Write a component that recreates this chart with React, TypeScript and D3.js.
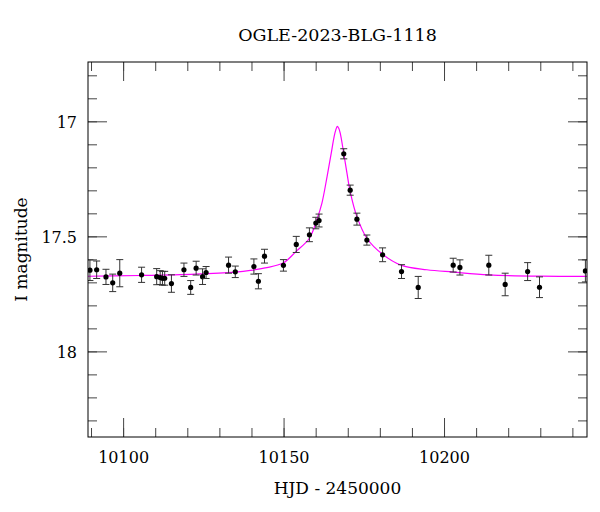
import * as d3 from "d3";

// photometry
const hjd = [
  10089.5, 10091.6, 10094.5, 10096.6, 10098.8, 10105.6, 10110.3, 10111.4, 10112.1, 10112.8,
  10114.9, 10118.8, 10120.9, 10122.6, 10124.6, 10125.7, 10132.7, 10134.8, 10140.6, 10142.0,
  10143.9, 10149.8, 10153.8, 10157.9, 10159.9, 10160.9, 10168.6, 10170.6, 10172.7, 10175.8,
  10180.7, 10186.6, 10191.8, 10202.7, 10204.8, 10213.8, 10218.9, 10225.9, 10229.6, 10243.9,
];
const mag = [
  17.645, 17.643, 17.674, 17.7, 17.658, 17.665, 17.673, 17.677, 17.68, 17.68,
  17.703, 17.643, 17.72, 17.636, 17.673, 17.655, 17.623, 17.652, 17.629, 17.693,
  17.584, 17.624, 17.533, 17.491, 17.44, 17.429, 17.139, 17.297, 17.423, 17.514,
  17.578, 17.651, 17.72, 17.623, 17.633, 17.623, 17.707, 17.651, 17.719, 17.648,
];
const magErr = [
  0.045, 0.038, 0.033, 0.038, 0.059, 0.033, 0.035, 0.03, 0.03, 0.03,
  0.038, 0.029, 0.03, 0.03, 0.034, 0.026, 0.035, 0.025, 0.033, 0.033,
  0.03, 0.025, 0.035, 0.03, 0.025, 0.028, 0.022, 0.022, 0.026, 0.022,
  0.03, 0.03, 0.048, 0.03, 0.033, 0.043, 0.049, 0.039, 0.045, 0.048,
];

// model curve
const modelHjd = [
  10085, 10105.2, 10122.3, 10134.8, 10139.5, 10144.1, 10149.7, 10153.7, 10157.9, 10160.2,
  10161.8, 10163.4, 10164.7, 10165.6, 10166.1, 10166.6, 10167.0, 10167.5, 10168.5, 10169.6,
  10170.6, 10172.7, 10175.8, 10180.7, 10186.6, 10194.5, 10202.7, 10213.8, 10229.8, 10248,
];
const modelMag = [
  17.672, 17.668, 17.662, 17.653, 17.646, 17.635, 17.614, 17.564, 17.506, 17.426,
  17.353, 17.238, 17.136, 17.064, 17.036, 17.02, 17.027, 17.049, 17.129, 17.223,
  17.303, 17.412, 17.506, 17.576, 17.624, 17.643, 17.653, 17.665, 17.671, 17.672,
];

const xMajor = [10100, 10150, 10200];
const xMinor = d3.range(10090, 10241, 10);
const yMajor = [17, 17.5, 18];
const yMinor = d3.range(16.8, 18.31, 0.1);

const width = 600;
const height = 512;
const left = 88;
const right = 587;
const top = 62;
const bottom = 437;
const font = "'DejaVu Serif', serif";

export default function App() {
  const x = d3.scaleLinear([10088.9, 10244.4], [left, right]);
  const y = d3.scaleLinear([16.74, 18.37], [top, bottom]);
  const line = d3
    .line<number>()
    .x((d) => x(d))
    .y((d, i) => y(modelMag[i]))
    .curve(d3.curveCatmullRom);

  const tickColor = "#444";
  const majorLen = 19;
  const minorLen = 9;

  return (
    <svg
      width={width}
      height={height}
      style={{ position: "absolute", left: 0, top: 0, background: "white" }}
      fontFamily={font}
    >
      <defs>
        <clipPath id="plot">
          <rect x={left} y={top} width={right - left} height={bottom - top} />
        </clipPath>
      </defs>

      {/* ticks on all four sides, pointing inward */}
      <g stroke={tickColor} strokeWidth={1}>
        {xMinor.map((t) => (
          <g key={"xm" + t}>
            <line x1={x(t)} x2={x(t)} y1={bottom} y2={bottom - minorLen} />
            <line x1={x(t)} x2={x(t)} y1={top} y2={top + minorLen} />
          </g>
        ))}
        {xMajor.map((t) => (
          <g key={"xM" + t}>
            <line x1={x(t)} x2={x(t)} y1={bottom} y2={bottom - majorLen} />
            <line x1={x(t)} x2={x(t)} y1={top} y2={top + majorLen} />
          </g>
        ))}
        {yMinor.map((t) => (
          <g key={"ym" + t.toFixed(1)}>
            <line x1={left} x2={left + minorLen} y1={y(t)} y2={y(t)} />
            <line x1={right} x2={right - minorLen} y1={y(t)} y2={y(t)} />
          </g>
        ))}
        {yMajor.map((t) => (
          <g key={"yM" + t}>
            <line x1={left} x2={left + majorLen} y1={y(t)} y2={y(t)} />
            <line x1={right} x2={right - majorLen} y1={y(t)} y2={y(t)} />
          </g>
        ))}
      </g>

      {/* model */}
      <path
        d={line(modelHjd) || undefined}
        fill="none"
        stroke="#ff00ff"
        strokeWidth={1.2}
        clipPath="url(#plot)"
      />

      {/* data with error bars */}
      <g clipPath="url(#plot)">
        {hjd.map((t, i) => {
          const cx = x(t);
          const y0 = y(mag[i] - magErr[i]);
          const y1 = y(mag[i] + magErr[i]);
          return (
            <g key={i}>
              <g stroke="#333" strokeWidth={1}>
                <line x1={cx} x2={cx} y1={y0} y2={y1} />
                <line x1={cx - 3.5} x2={cx + 3.5} y1={y0} y2={y0} />
                <line x1={cx - 3.5} x2={cx + 3.5} y1={y1} y2={y1} />
              </g>
              <circle cx={cx} cy={y(mag[i])} r={2.6} fill="black" />
            </g>
          );
        })}
      </g>

      {/* frame */}
      <rect
        x={left}
        y={top}
        width={right - left}
        height={bottom - top}
        fill="none"
        stroke="black"
        strokeWidth={1}
      />

      {/* tick labels */}
      <g fontSize={16} fill="black">
        {xMajor.map((t) => (
          <text key={"xl" + t} x={x(t)} y={463} textAnchor="middle">
            {t}
          </text>
        ))}
        {yMajor.map((t) => (
          <text key={"yl" + t} x={77} y={y(t) + 6} textAnchor="end">
            {t}
          </text>
        ))}
      </g>

      <text x={(left + right) / 2} y={41} textAnchor="middle" fontSize={17.5}>
        OGLE-2023-BLG-1118
      </text>
      <text x={(left + right) / 2} y={494} textAnchor="middle" fontSize={17}>
        HJD - 2450000
      </text>
      <text
        transform={`translate(27,${(top + bottom) / 2}) rotate(-90)`}
        textAnchor="middle"
        fontSize={17}
      >
        I magnitude
      </text>
    </svg>
  );
}
